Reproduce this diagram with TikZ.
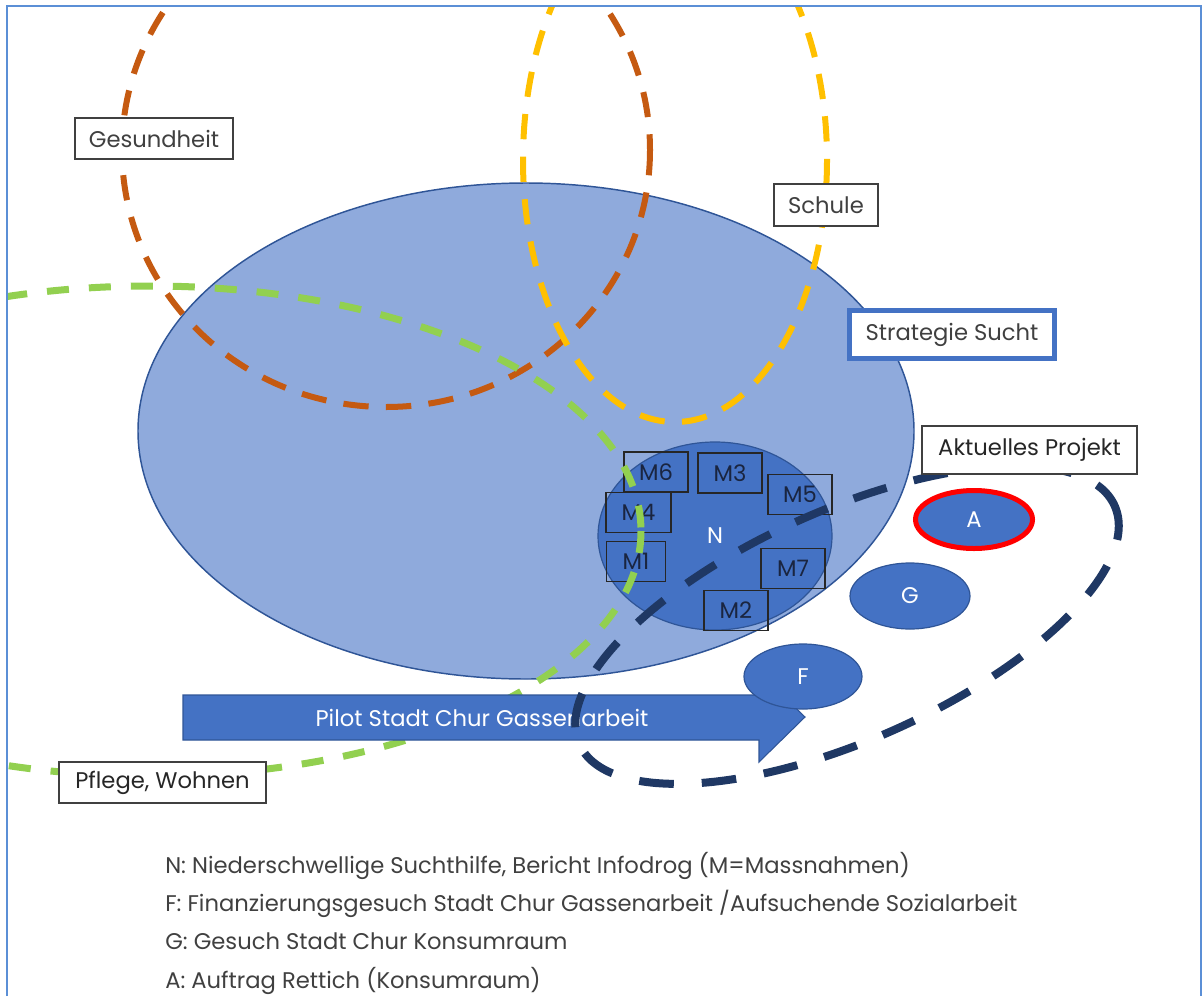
\documentclass[tikz,border=0pt]{standalone}
\usepackage{fontspec}
\setmainfont{Poppins}
\usepackage{xcolor}
\usetikzlibrary{shapes.geometric,positioning}

\definecolor{framecol}{HTML}{5B8FD6}
\definecolor{suchtfill}{HTML}{8FAADC}
\definecolor{darkline}{HTML}{2F5597}
\definecolor{nblue}{HTML}{4472C4}
\definecolor{gesorange}{HTML}{C55A11}
\definecolor{schulgelb}{HTML}{FFC000}
\definecolor{pflegegruen}{HTML}{92D050}
\definecolor{projnavy}{HTML}{1F3864}
\definecolor{textgray}{HTML}{404040}
\definecolor{mtext}{HTML}{1A2540}

\begin{document}
\begin{tikzpicture}[
  x=0.75pt, y=-0.75pt,
  every node/.style={font=\fontsize{17}{20}\selectfont},
  labelbox/.style={rectangle, draw=textgray, line width=0.9pt, fill=white, text=textgray, inner sep=0pt},
  mbox/.style={rectangle, draw=black!85, line width=0.9pt, inner sep=0pt, minimum width=48pt, minimum height=30pt, text=mtext},
  blob/.style={ellipse, draw=darkline, line width=0.9pt, fill=nblue, text=white, inner sep=0pt},
  bereich/.style={line width=4.5pt, dash pattern=on 19pt off 13pt},
  legende/.style={anchor=base west, text=textgray, inner sep=0pt}
]
  \useasboundingbox (0,0) rectangle (1203,996);

  % Strategie Sucht und N
  \node[ellipse, draw=darkline, line width=1.1pt, fill=suchtfill, inner sep=0pt,
        minimum width=582pt, minimum height=372pt] (sucht) at (526,431) {};
  \node[blob, minimum width=175.5pt, minimum height=141pt] (N) at (715,536) {N};

  % Massnahmen
  \node[mbox] (M6) at (656,472) {M6};
  \node[mbox] (M3) at (730,473) {M3};
  \node[mbox] (M5) at (800,494.5) {M5};
  \node[mbox, minimum width=48.75pt] (M4) at (638.5,512.5) {M4};
  \node[mbox, minimum width=44.25pt] (M1) at (636,561.5) {M1};
  \node[mbox] (M7) at (793,568.5) {M7};
  \node[mbox] (M2) at (736,610.5) {M2};

  % Gesundheit, Schule, Pflege
  \begin{scope}
    \clip (7,6) rectangle (1201,996);
    \draw[bereich, gesorange] (386,150) ellipse [x radius=264, y radius=257];
    \draw[bereich, schulgelb] (675,160) ellipse [x radius=152, y radius=262];
    \draw[bereich, pflegegruen, line width=5.25pt, dash pattern=on 16.5pt off 15pt] (150,531) ellipse [x radius=491, y radius=245];
  \end{scope}

  % Pilot
  \draw[fill=nblue, draw=darkline, line width=0.8pt] (183,695) -- (759,695) -- (759,672) -- (805,717)
    -- (759,762) -- (759,740) -- (183,740) -- cycle;
  \node[text=white] (pilot) at (482,718) {Pilot Stadt Chur Gassenarbeit};

  \node[blob, minimum width=88.5pt, minimum height=48.75pt] (F) at (803,676.5) {F};
  \node[blob, minimum width=90pt, minimum height=49.5pt] (G) at (910,596) {G};
  \node[blob, draw=red, line width=3.75pt, minimum width=87.75pt, minimum height=43.5pt] (A) at (974,519.5) {A};

  % Aktuelles Projekt
  \draw[projnavy, line width=6pt, dash pattern=on 26pt off 21pt, rotate around={24:(847,625)}]
    (847,625) ellipse [x radius=293, y radius=115];

  % Beschriftungen
  \node[labelbox, minimum width=118.5pt, minimum height=30.75pt] (gesund) at (154,138.5) {Gesundheit};
  \node[labelbox, minimum width=78pt, minimum height=31.5pt] (schule) at (826,205) {Schule};
  \node[labelbox, draw=nblue, line width=3.75pt, minimum width=153.75pt, minimum height=36pt] (strat) at (952,334.5) {Strategie Sucht};
  \node[labelbox, text=black!85, minimum width=161.25pt, minimum height=36pt] (aktuell) at (1029.5,450) {Aktuelles Projekt};
  \node[labelbox, text=black!85, minimum width=155.25pt, minimum height=30.75pt] (pflege) at (162.5,782.5) {Pflege, Wohnen};

  \draw[framecol, line width=1.5pt] (7,996) -- (7,6) -- (1201,6) -- (1201,996);

  % Legende
  \node[legende] (legN) at (165,873) {N: Niederschwellige Suchthilfe, Bericht Infodrog (M=Massnahmen)};
  \node[legende] (legF) at (165,911) {F: Finanzierungsgesuch Stadt Chur Gassenarbeit /Aufsuchende Sozialarbeit};
  \node[legende] (legG) at (165,949) {G: Gesuch Stadt Chur Konsumraum};
  \node[legende] (legA) at (165,988) {A: Auftrag Rettich (Konsumraum)};
\end{tikzpicture}
\end{document}
